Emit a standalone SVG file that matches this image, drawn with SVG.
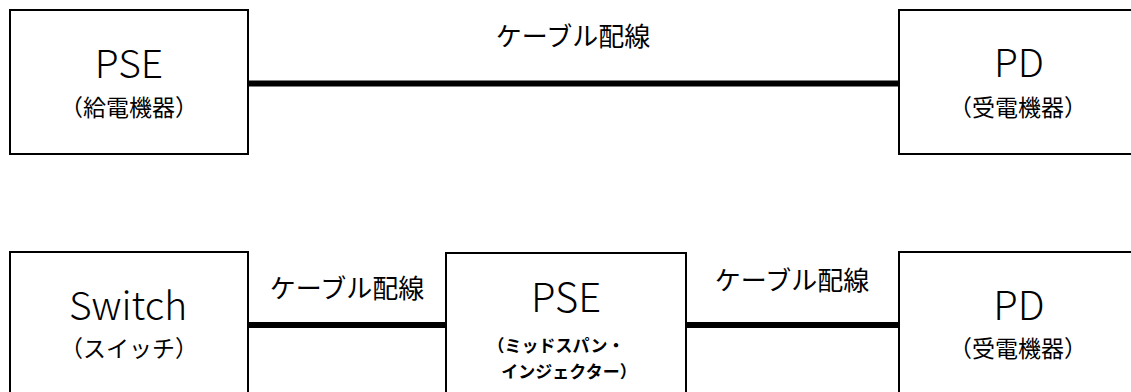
<svg xmlns="http://www.w3.org/2000/svg" width="1131" height="392" viewBox="0 0 1131 392">
<style>
.box{fill:#fff;stroke:#000;stroke-width:2}
.wire{stroke:#000;stroke-width:6;fill:none}
text{font-family:"Noto Sans CJK JP","Noto Sans",sans-serif;fill:#000;text-anchor:middle}
.t{font-size:39px;font-weight:300}
.s{font-size:23px}
.m{font-size:17px;font-weight:bold}
.l{font-size:26px}
</style>
<rect width="1131" height="392" fill="#fff"/>
<g id="connectors">
<line class="wire" x1="248" y1="83.5" x2="899" y2="83.5"/>
<text class="l" x="573" y="46">ケーブル配線</text>
<line class="wire" x1="248" y1="325" x2="446" y2="325"/>
<text class="l" x="347" y="298">ケーブル配線</text>
<line class="wire" x1="686" y1="325" x2="899" y2="325"/>
<text class="l" x="792" y="290">ケーブル配線</text>
</g>
<g id="pse-top">
<rect class="box" x="10" y="10" width="238" height="144"/>
<text class="t" x="129" y="78">PSE</text>
<text class="s" x="129" y="116">（給電機器）</text>
</g>
<g id="pd-top">
<rect class="box" x="899" y="10" width="240" height="144"/>
<text class="t" x="1019" y="77">PD</text>
<text class="s" x="1018" y="116">（受電機器）</text>
</g>
<g id="switch">
<rect class="box" x="10" y="252" width="238" height="146"/>
<text class="t" x="128" y="320" style="font-size:39px">Switch</text>
<text class="s" x="129" y="357">（スイッチ）</text>
</g>
<g id="pse-mid">
<rect class="box" x="446" y="253" width="240" height="146"/>
<text class="t" x="566" y="312" style="font-size:40px">PSE</text>
<text class="m" x="556" y="352">（ミッドスパン・</text>
<text class="m" x="569" y="378">インジェクター）</text>
</g>
<g id="pd-bottom">
<rect class="box" x="899" y="252" width="240" height="146"/>
<text class="t" x="1019" y="320" style="font-size:40px">PD</text>
<text class="s" x="1018" y="357">（受電機器）</text>
</g>
</svg>
